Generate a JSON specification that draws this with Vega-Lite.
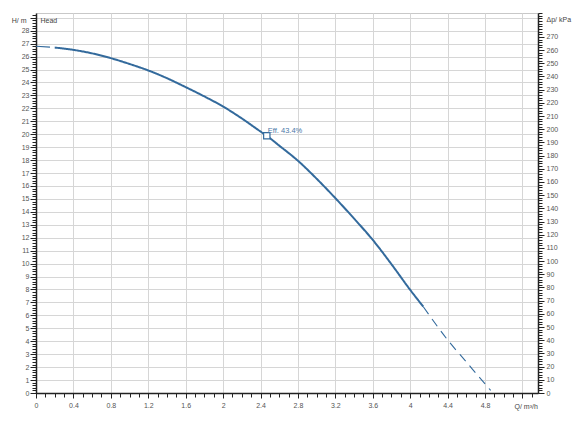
{
  "$schema": "https://vega.github.io/schema/vega-lite/v6.json",
  "width": 502,
  "height": 380,
  "autosize": "none",
  "padding": {"left": 36, "top": 13, "right": 42, "bottom": 34},
  "background": "white",
  "config": {
    "view": {"stroke": "#c8c8c8", "strokeWidth": 1},
    "axis": {
      "labelFont": "Liberation Sans", "labelFontSize": 7, "labelColor": "#555",
      "titleFont": "Liberation Sans", "titleFontSize": 7, "titleFontWeight": "normal", "titleColor": "#444",
      "domainColor": "#222", "tickColor": "#222", "gridColor": "#d6d6d6", "gridWidth": 1,
      "labelFlush": false, "labelOverlap": false
    }
  },
  "datasets": {
    "curve": [
      {"q": 0, "h": 26.8, "seg": "start"},
      {"q": 0.2, "h": 26.7, "seg": "start"},
      {"q": 0.2, "h": 26.7, "seg": "main"},
      {"q": 0.4, "h": 26.52, "seg": "main"},
      {"q": 0.6, "h": 26.25, "seg": "main"},
      {"q": 0.8, "h": 25.88, "seg": "main"},
      {"q": 1.0, "h": 25.43, "seg": "main"},
      {"q": 1.2, "h": 24.93, "seg": "main"},
      {"q": 1.4, "h": 24.33, "seg": "main"},
      {"q": 1.6, "h": 23.64, "seg": "main"},
      {"q": 1.8, "h": 22.92, "seg": "main"},
      {"q": 2.0, "h": 22.14, "seg": "main"},
      {"q": 2.2, "h": 21.22, "seg": "main"},
      {"q": 2.4, "h": 20.21, "seg": "main"},
      {"q": 2.467, "h": 19.88, "seg": "main"},
      {"q": 2.6, "h": 19.12, "seg": "main"},
      {"q": 2.8, "h": 17.95, "seg": "main"},
      {"q": 3.0, "h": 16.56, "seg": "main"},
      {"q": 3.2, "h": 15.06, "seg": "main"},
      {"q": 3.4, "h": 13.48, "seg": "main"},
      {"q": 3.6, "h": 11.83, "seg": "main"},
      {"q": 3.8, "h": 9.95, "seg": "main"},
      {"q": 4.0, "h": 7.97, "seg": "main"},
      {"q": 4.14, "h": 6.67, "seg": "main"},
      {"q": 4.14, "h": 6.67, "seg": "end"},
      {"q": 4.4, "h": 4.1, "seg": "end"},
      {"q": 4.6, "h": 2.4, "seg": "end"},
      {"q": 4.8, "h": 0.7, "seg": "end"},
      {"q": 4.86, "h": 0.2, "seg": "end"}
    ],
    "eff": [{"q": 2.467, "h": 19.88, "label": "Eff. 43.4%"}],
    "pressure": [{"p": 0}, {"p": 288.1}]
  },
  "layer": [
    {
      "data": {"name": "curve"},
      "mark": {"type": "line", "color": "#336a9c", "strokeCap": "butt", "interpolate": "monotone"},
      "encoding": {
        "x": {
          "field": "q", "type": "quantitative",
          "scale": {"domain": [0, 5.366], "nice": false, "zero": false},
          "axis": {
            "orient": "bottom",
            "values": [0, 0.4, 0.8, 1.2, 1.6, 2, 2.4, 2.8, 3.2, 3.6, 4, 4.4, 4.8, 5.2],
            "labelExpr": "datum.value > 5 ? '' : format(datum.value, '~g')",
            "grid": true, "tickSize": 5, "domainWidth": 1.5, "labelPadding": 3,
            "title": "Q/ m³/h", "titleX": 478, "titleY": 13, "titleAlign": "left",
            "titleBaseline": "middle", "titleAngle": 0
          }
        },
        "y": {
          "field": "h", "type": "quantitative",
          "scale": {"domain": [0, 29.37], "nice": false, "zero": false},
          "axis": {
            "orient": "left",
            "values": [0,1,2,3,4,5,6,7,8,9,10,11,12,13,14,15,16,17,18,19,20,21,22,23,24,25,26,27,28,29],
            "labelExpr": "datum.value > 28 ? '' : format(datum.value, '~g')",
            "grid": true, "tickSize": 6, "domainWidth": 1.5, "labelPadding": 1,
            "title": "H/ m", "titleX": -10, "titleY": 7, "titleAlign": "right",
            "titleBaseline": "middle", "titleAngle": 0
          }
        },
        "strokeDash": {
          "field": "seg", "type": "nominal",
          "scale": {"type": "ordinal", "domain": ["start", "main", "end"], "range": [[14, 5], [1, 0], [9, 6]]},
          "legend": null
        },
        "strokeWidth": {
          "field": "seg", "type": "nominal",
          "scale": {"type": "ordinal", "domain": ["start", "main", "end"], "range": [1.2, 2, 1.1]},
          "legend": null
        }
      }
    },
    {
      "data": {"name": "curve"},
      "mark": {"type": "point", "opacity": 0},
      "encoding": {
        "x": {
          "field": "q", "type": "quantitative",
          "scale": {"domain": [0, 5.366], "nice": false, "zero": false},
          "axis": {"orient": "bottom", "tickCount": 54, "labels": false, "grid": false, "domain": false, "tickSize": 4, "title": null}
        },
        "y": {
          "field": "h", "type": "quantitative",
          "scale": {"domain": [0, 29.37], "nice": false, "zero": false},
          "axis": {
            "orient": "left", "tickCount": 147, "labels": false, "grid": false, "domain": false, "tickSize": 4,
            "title": "Head", "titleX": 4, "titleY": 7, "titleAlign": "left", "titleBaseline": "middle", "titleAngle": 0
          }
        }
      }
    },
    {
      "data": {"name": "eff"},
      "mark": {"type": "point", "shape": "square", "size": 40, "filled": true, "fill": "white", "stroke": "#336a9c", "strokeWidth": 1.2, "opacity": 1},
      "encoding": {
        "x": {"field": "q", "type": "quantitative", "scale": {"domain": [0, 5.366], "nice": false, "zero": false}, "axis": null},
        "y": {"field": "h", "type": "quantitative", "scale": {"domain": [0, 29.37], "nice": false, "zero": false}, "axis": null}
      }
    },
    {
      "data": {"name": "eff"},
      "mark": {"type": "text", "align": "left", "baseline": "middle", "dx": 1, "dy": -4.5, "fontSize": 7.5, "font": "Liberation Sans", "color": "#4a78a8"},
      "encoding": {
        "x": {"field": "q", "type": "quantitative", "scale": {"domain": [0, 5.366], "nice": false, "zero": false}, "axis": null},
        "y": {"field": "h", "type": "quantitative", "scale": {"domain": [0, 29.37], "nice": false, "zero": false}, "axis": null},
        "text": {"field": "label"}
      }
    },
    {
      "data": {"name": "pressure"},
      "mark": {"type": "point", "opacity": 0},
      "encoding": {
        "y": {
          "field": "p", "type": "quantitative",
          "scale": {"domain": [0, 288.1], "nice": false, "zero": false},
          "axis": {
            "orient": "right",
            "values": [0,10,20,30,40,50,60,70,80,90,100,110,120,130,140,150,160,170,180,190,200,210,220,230,240,250,260,270],
            "grid": false, "tickSize": 6, "domainWidth": 1.5, "labelPadding": 2,
            "title": "Δp/ kPa", "titleX": 8, "titleY": 6, "titleAlign": "left",
            "titleBaseline": "middle", "titleAngle": 0
          }
        }
      }
    },
    {
      "data": {"name": "pressure"},
      "mark": {"type": "point", "opacity": 0},
      "encoding": {
        "y": {
          "field": "p", "type": "quantitative",
          "scale": {"domain": [0, 288.1], "nice": false, "zero": false},
          "axis": {"orient": "right", "tickCount": 145, "labels": false, "grid": false, "domain": false, "tickSize": 4, "title": null}
        }
      }
    }
  ],
  "resolve": {
    "scale": {"y": "independent"},
    "axis": {"x": "independent", "y": "independent"}
  }
}
